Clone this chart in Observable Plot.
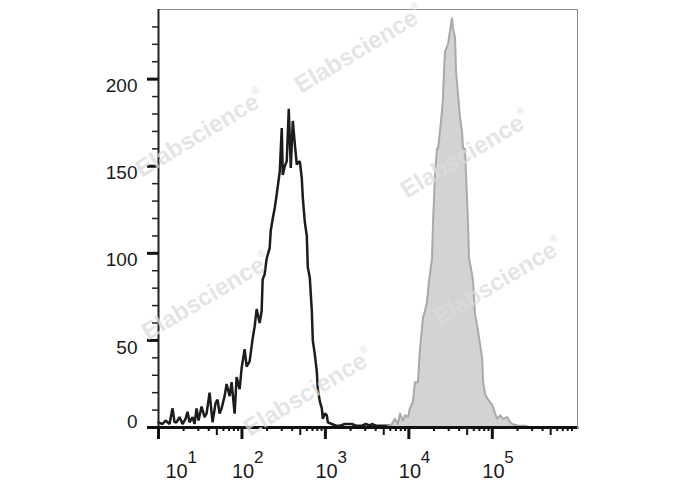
<!DOCTYPE html>
<html><head><meta charset="utf-8">
<script src="https://cdn.jsdelivr.net/npm/d3@7"></script>
<script src="https://cdn.jsdelivr.net/npm/@observablehq/plot@0.6"></script>
<style>html,body{margin:0;padding:0;background:#fff;} svg{display:block;}</style>
</head><body><div id="chart"></div>
<script>
// Unstained control (black line): log10 fluorescence intensity and event count
const unstainedLogFI = [1.000,1.048,1.084,1.132,1.168,1.192,1.216,1.252,1.288,1.324,1.348,1.372,1.408,1.432,1.456,1.480,1.516,1.552,1.576,1.612,1.648,1.684,1.708,1.732,1.756,1.792,1.816,1.852,1.876,1.912,1.936,1.972,1.996,2.032,2.056,2.092,2.128,2.152,2.176,2.212,2.236,2.248,2.272,2.296,2.332,2.345,2.369,2.393,2.417,2.453,2.477,2.489,2.513,2.537,2.561,2.585,2.609,2.633,2.657,2.693,2.717,2.729,2.753,2.777,2.789,2.813,2.837,2.849,2.873,2.897,2.909,2.933,2.957,2.969,2.993,3.017,3.029,3.077,3.125,3.173,3.233,3.317,3.365,3.437,3.485,3.533,3.557,3.605,3.653,3.773,4.500,6.020];
const unstainedCount = [3,2,4,2,11,3,3,6,2,5,9,3,6,2,11,4,12,6,8,20,3,14,16,8,11,18,25,18,26,8,29,22,34,45,35,38,51,58,68,60,67,85,88,97,103,113,120,126,134,147,172,145,150,153,183,149,176,163,151,153,143,132,118,110,92,86,67,50,42,32,22,15,11,5,8,7,3,2,1,1,2,2,1,1,2,1,2,1,1,1,0,0];

// Stained sample (grey filled histogram)
const stainedLogFI = [1.000,3.713,3.773,3.797,3.833,3.869,3.893,3.929,3.953,3.989,4.013,4.049,4.073,4.109,4.133,4.169,4.193,4.217,4.241,4.277,4.289,4.313,4.337,4.349,4.373,4.397,4.409,4.421,4.433,4.469,4.493,4.517,4.529,4.553,4.565,4.589,4.613,4.637,4.649,4.673,4.685,4.709,4.721,4.757,4.769,4.793,4.830,4.878,4.890,4.914,4.950,4.998,5.034,5.058,5.094,5.130,5.178,5.214,5.238,5.310,5.394,5.454,6.020];
const stainedCount = [0,0,1,2,5,2,8,4,7,6,11,15,26,26,45,63,67,72,84,97,117,145,160,160,170,182,189,205,216,220,228,235,229,224,205,191,178,170,160,160,145,117,97,88,84,65,55,40,26,19,16,13,8,5,7,5,6,3,2,1,1,0,0];

// Axes
const xDomain = [10, 1048576];
const yDomain = [0, 240];
const xLabelValues = [10, 100, 1000, 10000, 100000];
const xLabelExponents = ["1", "2", "3", "4", "5"];
const xDecades = [10, 100, 1000, 10000, 100000];
const xMinorMultipliers = [2, 3, 4, 6, 7, 8, 9];
const xMidMultiplier = 5;
const yMajor = [0, 50, 100, 150, 200];
const yMinor = [10,20,30,40,60,70,80,90,110,120,130,140,160,170,180,190,210,220,230];

const unstained = unstainedLogFI.map((e, i) => ({fi: 10 ** e, count: unstainedCount[i]}));
const stained = stainedLogFI.map((e, i) => ({fi: 10 ** e, count: stainedCount[i]}));
const xMinor = xDecades.flatMap(d => xMinorMultipliers.map(m => d * m));
const xMid = xDecades.map(d => d * xMidMultiplier);
const xLabels = xLabelValues.map((v, i) => ({v, e: xLabelExponents[i]}));

const font = "'Liberation Sans', Arial, Helvetica, sans-serif";
const noText = () => "";

const chart = Plot.plot({
  width: 688, height: 490,
  marginLeft: 158, marginRight: 111, marginTop: 9, marginBottom: 63,
  style: {fontFamily: font, background: "#fff", color: "#1a1a1a", overflow: "visible"},
  x: {type: "log", domain: xDomain, axis: null, label: null},
  y: {domain: yDomain, axis: null, label: null},
  marks: [
    Plot.lineY(unstained, {x: "fi", y: "count", stroke: "#1c1c1c", strokeWidth: 2.5, strokeLinejoin: "miter"}),
    Plot.areaY(stained, {x: "fi", y: "count", fill: "#d3d3d3"}),
    Plot.lineY(stained, {x: "fi", y: "count", stroke: "#a9a9a9", strokeWidth: 2}),
    Plot.ruleY([yDomain[1]], {stroke: "#8c8c8c", strokeWidth: 1}),
    Plot.ruleX([xDomain[1]], {stroke: "#8c8c8c", strokeWidth: 1}),
    Plot.ruleX([xDomain[0]], {stroke: "#222", strokeWidth: 2}),
    Plot.ruleY([0], {stroke: "#111", strokeWidth: 3}),
    Plot.axisY(yMinor, {tickSize: 6, strokeWidth: 1.5, stroke: "#222", tickFormat: noText, label: null}),
    Plot.axisY(yMajor, {tickSize: 11, strokeWidth: 3, stroke: "#111", tickFormat: noText, label: null}),
    Plot.axisY(yMajor.slice(1), {tickSize: 0, tickPadding: 21, dy: 7, fontSize: 19, label: null}),
    Plot.axisY(yMajor.slice(0, 1), {tickSize: 0, tickPadding: 21, dy: -6, fontSize: 19, label: null}),
    Plot.axisX(xMinor, {tickSize: 4, strokeWidth: 2, stroke: "#111", tickFormat: noText, label: null}),
    Plot.axisX(xMid, {tickSize: 8, strokeWidth: 2, stroke: "#111", tickFormat: noText, label: null}),
    Plot.axisX(xLabelValues, {tickSize: 12, strokeWidth: 3, stroke: "#111", tickFormat: noText, label: null}),
    Plot.text(xLabels.slice(0, 1), {x: "v", frameAnchor: "bottom", text: () => "10", dx: 7, dy: 50, textAnchor: "start", fontSize: 20, fill: "#1a1a1a"}),
    Plot.text(xLabels.slice(0, 1), {x: "v", frameAnchor: "bottom", text: "e", dx: 29, dy: 35, textAnchor: "start", fontSize: 17, fill: "#1a1a1a"}),
    Plot.text(xLabels.slice(1), {x: "v", frameAnchor: "bottom", text: () => "10", dx: -10, dy: 50, textAnchor: "start", fontSize: 20, fill: "#1a1a1a"}),
    Plot.text(xLabels.slice(1), {x: "v", frameAnchor: "bottom", text: "e", dx: 12, dy: 35, textAnchor: "start", fontSize: 17, fill: "#1a1a1a"})
  ]
});

document.getElementById("chart").appendChild(chart);

// Watermark
const watermarkCenters = [[359, 49], [200, 133], [465, 154], [206, 296], [498, 281], [308, 392]];
const svg = d3.select(chart);
watermarkCenters.forEach(([cx, cy]) => {
  const t = svg.append("text")
    .attr("transform", `translate(${cx},${cy}) rotate(-31)`)
    .attr("text-anchor", "middle")
    .attr("dy", "0.35em")
    .attr("font-family", font)
    .attr("font-weight", "bold")
    .attr("font-size", 24)
    .attr("fill", "#dcdcdc")
    .attr("fill-opacity", 0.75);
  t.append("tspan").text("Elabscience");
  t.append("tspan").attr("font-size", 10).attr("dy", -13).text("®");
});
</script>
</body></html>
